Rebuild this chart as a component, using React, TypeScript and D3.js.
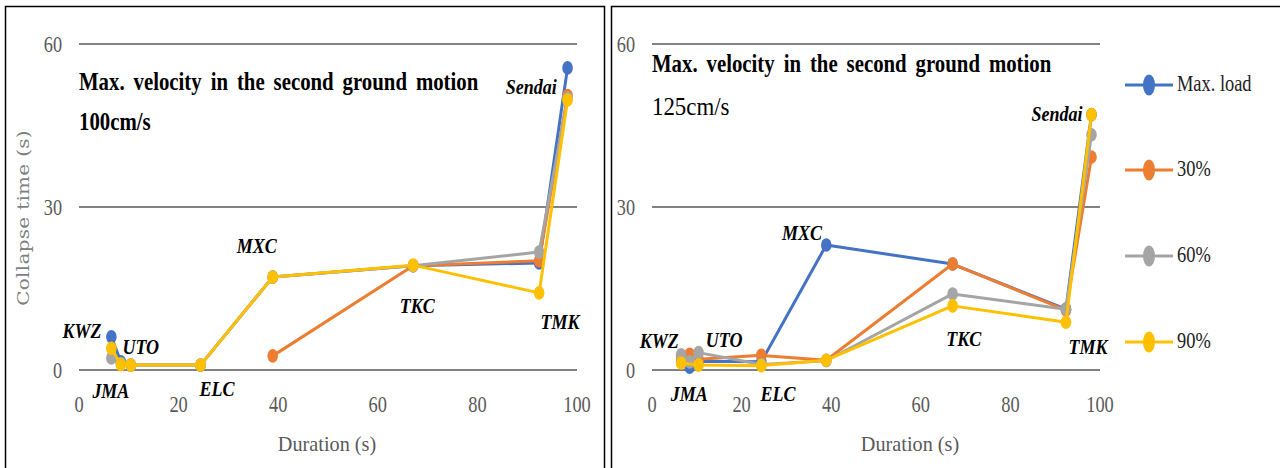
import React from "react";
import * as d3 from "d3";

// earthquake records, ordered by duration
const quakes = ["KWZ", "JMA", "UTO", "ELC", "MXC", "TKC", "TMK", "Sendai"];
const durations = [6.5, 8.4, 10.4, 24.4, 38.9, 67.1, 92.4, 98.1];

const seriesNames = ["Max. load", "30%", "60%", "90%"];
const colors = ["#4472C4", "#ED7D31", "#A5A5A5", "#FFC000"];

// collapse time (s), second ground motion 100cm/s
const v100MaxLoad = [6.1, 1.5, 0.9, 0.9, 17.1, 19.2, 19.7, 55.6];
const v100Load30 = [null, null, null, null, 2.6, 19.2, 20.1, 50.5];
const v100Load60 = [2.2, 1.2, 0.9, 0.9, 17.1, 19.2, 21.7, 50.0];
const v100Load90 = [4.0, 1.0, 0.9, 0.9, 17.1, 19.3, 14.2, 49.7];

// collapse time (s), second ground motion 125cm/s
const v125MaxLoad = [1.5, 0.5, 1.6, 1.5, 23.0, 19.5, 11.2, 47.0];
const v125Load30 = [2.5, 2.9, 2.0, 2.7, 1.8, 19.5, 11.0, 39.2];
const v125Load60 = [2.8, 1.5, 3.2, 1.0, 1.7, 14.0, 11.2, 43.3];
const v125Load90 = [1.3, null, 0.9, 0.8, 1.8, 11.8, 8.8, 47.0];

// where the record names sit, in data units
const lab100X = [0.6, 6.4, 12.4, 27.7, 35.7, 67.9, 96.6, 90.8];
const lab100Y = [7.2, -3.9, 4.2, -3.5, 22.8, 11.8, 8.8, 52.1];
const lab125X = [1.6, 8.3, 16.1, 28.1, 33.5, 69.6, 97.3, 90.4];
const lab125Y = [5.3, -4.4, 5.5, -4.4, 25.2, 5.7, 4.2, 47];

const xTicks = [0, 20, 40, 60, 80, 100];
const yTicks = [0, 30, 60];

const serif = "Liberation Serif, Times New Roman, serif";
const grey = "#595959";

const SText = ({ x, y, sx = 0.8, children, ...rest }: any) => (
  <text transform={`translate(${x},${y}) scale(${sx},1)`} fontFamily={serif} {...rest}>
    {children}
  </text>
);

const Panel = ({ left, right, series, labX, labY, title1, title2, t1y, t2y, t2bold, xTitleX, tickRight }: any) => {
  const x = d3.scaleLinear().domain([0, 100]).range([left, right]);
  const y = d3.scaleLinear().domain([0, 60]).range([370, 44]);
  const line = d3
    .line<any>()
    .x((d) => x(d.x))
    .y((d) => y(d.y));

  return (
    <g>
      {yTicks.map((t) => (
        <g key={t}>
          <line x1={left} x2={right} y1={y(t)} y2={y(t)} stroke={grey} strokeWidth={1.6} />
          <SText x={tickRight} y={y(t)} sx={0.76} fontSize={24} fill={grey} textAnchor="end" dominantBaseline="central">
            {t}
          </SText>
        </g>
      ))}
      {xTicks.map((t) => (
        <SText key={t} x={x(t)} y={404} sx={0.8} fontSize={23} fill={grey} textAnchor="middle" dominantBaseline="central">
          {t}
        </SText>
      ))}

      <SText x={left} y={t1y} sx={0.8} fontWeight="bold" fontSize={26} wordSpacing={4.7}>
        {title1}
      </SText>
      <SText x={left} y={t2y} sx={t2bold ? 0.8 : 0.88} fontSize={26} fontWeight={t2bold ? "bold" : "normal"}>
        {title2}
      </SText>

      {series.map((vals: any[], i: number) => {
        const pts = vals
          .map((v, j) => ({ x: durations[j], y: v }))
          .filter((d) => d.y != null);
        return (
          <g key={i}>
            <path d={line(pts) || ""} fill="none" stroke={colors[i]} strokeWidth={3} strokeLinejoin="round" />
            {pts.map((d, j) => (
              <ellipse key={j} cx={x(d.x)} cy={y(d.y)} rx={5.3} ry={6.8} fill={colors[i]} />
            ))}
          </g>
        );
      })}

      {quakes.map((q, i) => (
        <SText
          key={q}
          x={x(labX[i])}
          y={y(labY[i])}
          sx={0.9}
          fontSize={20}
          fontWeight="bold"
          fontStyle="italic"
          textAnchor="middle"
          dominantBaseline="central"
        >
          {q}
        </SText>
      ))}

      <SText x={xTitleX} y={444} sx={0.92} fontSize={22} fill={grey} textAnchor="middle" dominantBaseline="central">
        Duration (s)
      </SText>
    </g>
  );
};

export default function App() {
  const legendY = [85, 170, 256, 342];
  return (
    <svg width={1280} height={468} style={{ position: "absolute", left: 0, top: 0, background: "#fff" }}>
      <rect x={5.5} y={6.5} width={599} height={480} fill="none" stroke="#000" strokeWidth={1.5} />
      <rect x={611.5} y={6.5} width={700} height={480} fill="none" stroke="#000" strokeWidth={1.5} />

      <text
        transform="translate(23,218) scale(0.85,1) rotate(-90)"
        fontFamily="DejaVu Serif, serif"
        fontSize={20}
        letterSpacing={0.3}
        fill="#7f7f7f"
        textAnchor="middle"
        dominantBaseline="central"
      >
        Collapse time (s)
      </text>

      <Panel
        left={79}
        right={577}
        series={[v100MaxLoad, v100Load30, v100Load60, v100Load90]}
        labX={lab100X}
        labY={lab100Y}
        title1="Max. velocity in the second ground motion"
        title2="100cm/s"
        t1y={90}
        t2y={130}
        t2bold={true}
        xTitleX={327}
        tickRight={62}
      />
      <Panel
        left={652}
        right={1100}
        series={[v125MaxLoad, v125Load30, v125Load60, v125Load90]}
        labX={lab125X}
        labY={lab125Y}
        title1="Max. velocity in the second ground motion"
        title2="125cm/s"
        t1y={72}
        t2y={115}
        t2bold={false}
        xTitleX={910}
        tickRight={635}
      />

      {seriesNames.map((s, i) => (
        <g key={s}>
          <line x1={1125} x2={1173} y1={legendY[i]} y2={legendY[i]} stroke={colors[i]} strokeWidth={3} />
          <ellipse cx={1149} cy={legendY[i]} rx={6} ry={10.5} fill={colors[i]} />
          <SText x={1177} y={legendY[i] - 2} sx={0.8} fontSize={23} textAnchor="start" dominantBaseline="central" fill="#222">
            {s}
          </SText>
        </g>
      ))}
    </svg>
  );
}
